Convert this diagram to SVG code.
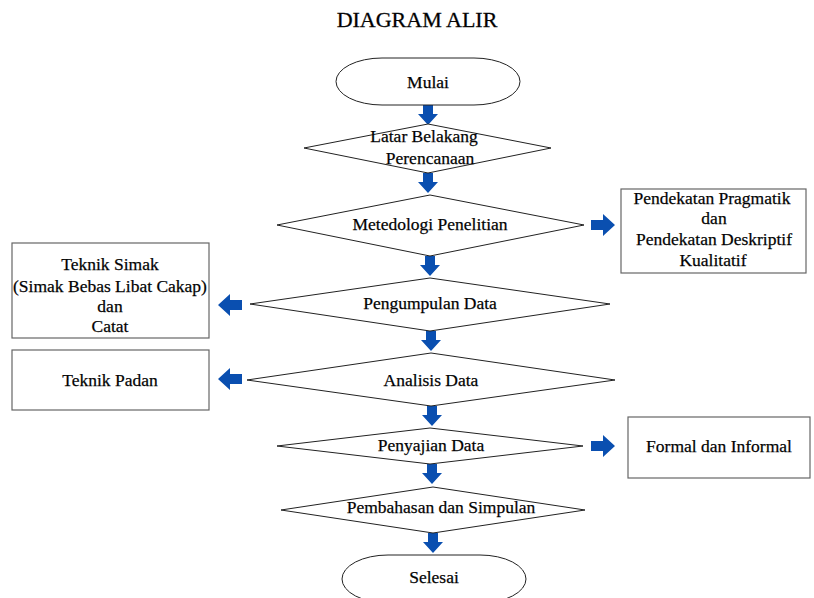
<svg xmlns="http://www.w3.org/2000/svg" width="814" height="598" viewBox="0 0 814 598">
<style>
.shape{fill:#fff;stroke:#222;stroke-width:1}
.box{fill:#fff;stroke:#666;stroke-width:1.2}
.arr{fill:#0a4fb0}
</style>
<rect width="814" height="598" fill="#fff"/>
<text x="417" y="27" font-family="Liberation Serif" font-size="22" text-anchor="middle" stroke="#111" stroke-width="0.3">DIAGRAM ALIR</text>

<g id="connectors">
<path class="arr" transform="translate(428,105)" d="M-5,0 H5 V9 H10 L0,20 L-10,9 H-5 Z"/>
<path class="arr" transform="translate(428,173)" d="M-5,0 H5 V9 H10 L0,20 L-10,9 H-5 Z"/>
<path class="arr" transform="translate(430,256)" d="M-5,0 H5 V9 H10 L0,20 L-10,9 H-5 Z"/>
<path class="arr" transform="translate(431,331)" d="M-5,0 H5 V9 H10 L0,20 L-10,9 H-5 Z"/>
<path class="arr" transform="translate(432,406)" d="M-5,0 H5 V9 H10 L0,20 L-10,9 H-5 Z"/>
<path class="arr" transform="translate(432,464)" d="M-5,0 H5 V9 H10 L0,20 L-10,9 H-5 Z"/>
<path class="arr" transform="translate(433,533)" d="M-5,0 H5 V9 H10 L0,20 L-10,9 H-5 Z"/>
<path class="arr" transform="translate(591,225)" d="M0,-5 V5 H12 V11 L24,0 L12,-11 V-5 Z"/>
<path class="arr" transform="translate(591,446)" d="M0,-5 V5 H12 V11 L24,0 L12,-11 V-5 Z"/>
<path class="arr" transform="translate(242,305)" d="M0,-5 V5 H-12 V11 L-24,0 L-12,-11 V-5 Z"/>
<path class="arr" transform="translate(242,379)" d="M0,-5 V5 H-12 V11 L-24,0 L-12,-11 V-5 Z"/>
</g>

<g id="mulai">
<rect class="shape" x="336" y="58" width="184" height="47" rx="46" ry="23.5"/>
<text x="428" y="88" font-family="Liberation Serif" font-size="17.5" text-anchor="middle" stroke="#111" stroke-width="0.25">Mulai</text>
</g>
<g id="latar">
<polygon class="shape" points="428,124 551,148 428,173 304,148"/>
<text x="424" y="142" font-family="Liberation Serif" font-size="17.5" text-anchor="middle" stroke="#111" stroke-width="0.25">Latar Belakang</text>
<text x="430" y="164" font-family="Liberation Serif" font-size="17.5" text-anchor="middle" stroke="#111" stroke-width="0.25">Perencanaan</text>
</g>
<g id="metedologi">
<polygon class="shape" points="430,195 584,225 430,256 277,225"/>
<text x="430" y="230" font-family="Liberation Serif" font-size="17.5" text-anchor="middle" stroke="#111" stroke-width="0.25">Metedologi Penelitian</text>
</g>
<g id="pendekatan">
<rect class="box" x="621" y="189" width="185" height="84"/>
<text x="712" y="204" font-family="Liberation Serif" font-size="17.5" text-anchor="middle" stroke="#111" stroke-width="0.25">Pendekatan Pragmatik</text>
<text x="714" y="224" font-family="Liberation Serif" font-size="17.5" text-anchor="middle" stroke="#111" stroke-width="0.25">dan</text>
<text x="714" y="245" font-family="Liberation Serif" font-size="17.5" text-anchor="middle" stroke="#111" stroke-width="0.25">Pendekatan Deskriptif</text>
<text x="713" y="266" font-family="Liberation Serif" font-size="17.5" text-anchor="middle" stroke="#111" stroke-width="0.25">Kualitatif</text>
</g>
<g id="pengumpulan">
<polygon class="shape" points="430,278 610,304 430,331 250,304"/>
<text x="430" y="309" font-family="Liberation Serif" font-size="17.5" text-anchor="middle" stroke="#111" stroke-width="0.25">Pengumpulan Data</text>
</g>
<g id="simak">
<rect class="box" x="12" y="243" width="197" height="95"/>
<text x="110" y="270" font-family="Liberation Serif" font-size="17.5" text-anchor="middle" stroke="#111" stroke-width="0.25">Teknik Simak</text>
<text x="110" y="292" font-family="Liberation Serif" font-size="17.5" text-anchor="middle" stroke="#111" stroke-width="0.25">(Simak Bebas Libat Cakap)</text>
<text x="110" y="312" font-family="Liberation Serif" font-size="17.5" text-anchor="middle" stroke="#111" stroke-width="0.25">dan</text>
<text x="110" y="332" font-family="Liberation Serif" font-size="17.5" text-anchor="middle" stroke="#111" stroke-width="0.25">Catat</text>
</g>
<g id="analisis">
<polygon class="shape" points="431,353 615,380 431,406 247,380"/>
<text x="431" y="386" font-family="Liberation Serif" font-size="17.5" text-anchor="middle" stroke="#111" stroke-width="0.25">Analisis Data</text>
</g>
<g id="padan">
<rect class="box" x="12" y="350" width="197" height="60"/>
<text x="110" y="386" font-family="Liberation Serif" font-size="17.5" text-anchor="middle" stroke="#111" stroke-width="0.25">Teknik Padan</text>
</g>
<g id="penyajian">
<polygon class="shape" points="430,428 583,446 430,464 277,446"/>
<text x="431" y="451" font-family="Liberation Serif" font-size="17.5" text-anchor="middle" stroke="#111" stroke-width="0.25">Penyajian Data</text>
</g>
<g id="formal">
<rect class="box" x="628" y="417" width="182" height="61"/>
<text x="719" y="452" font-family="Liberation Serif" font-size="17.5" text-anchor="middle" stroke="#111" stroke-width="0.25">Formal dan Informal</text>
</g>
<g id="pembahasan">
<polygon class="shape" points="433,487 585,510 433,533 281,510"/>
<text x="441" y="513" font-family="Liberation Serif" font-size="17.5" text-anchor="middle" stroke="#111" stroke-width="0.25">Pembahasan dan Simpulan</text>
</g>
<g id="selesai">
<rect class="shape" x="342" y="555" width="184" height="48" rx="46" ry="24"/>
<text x="434" y="583" font-family="Liberation Serif" font-size="17.5" text-anchor="middle" stroke="#111" stroke-width="0.25">Selesai</text>
</g>
</svg>
